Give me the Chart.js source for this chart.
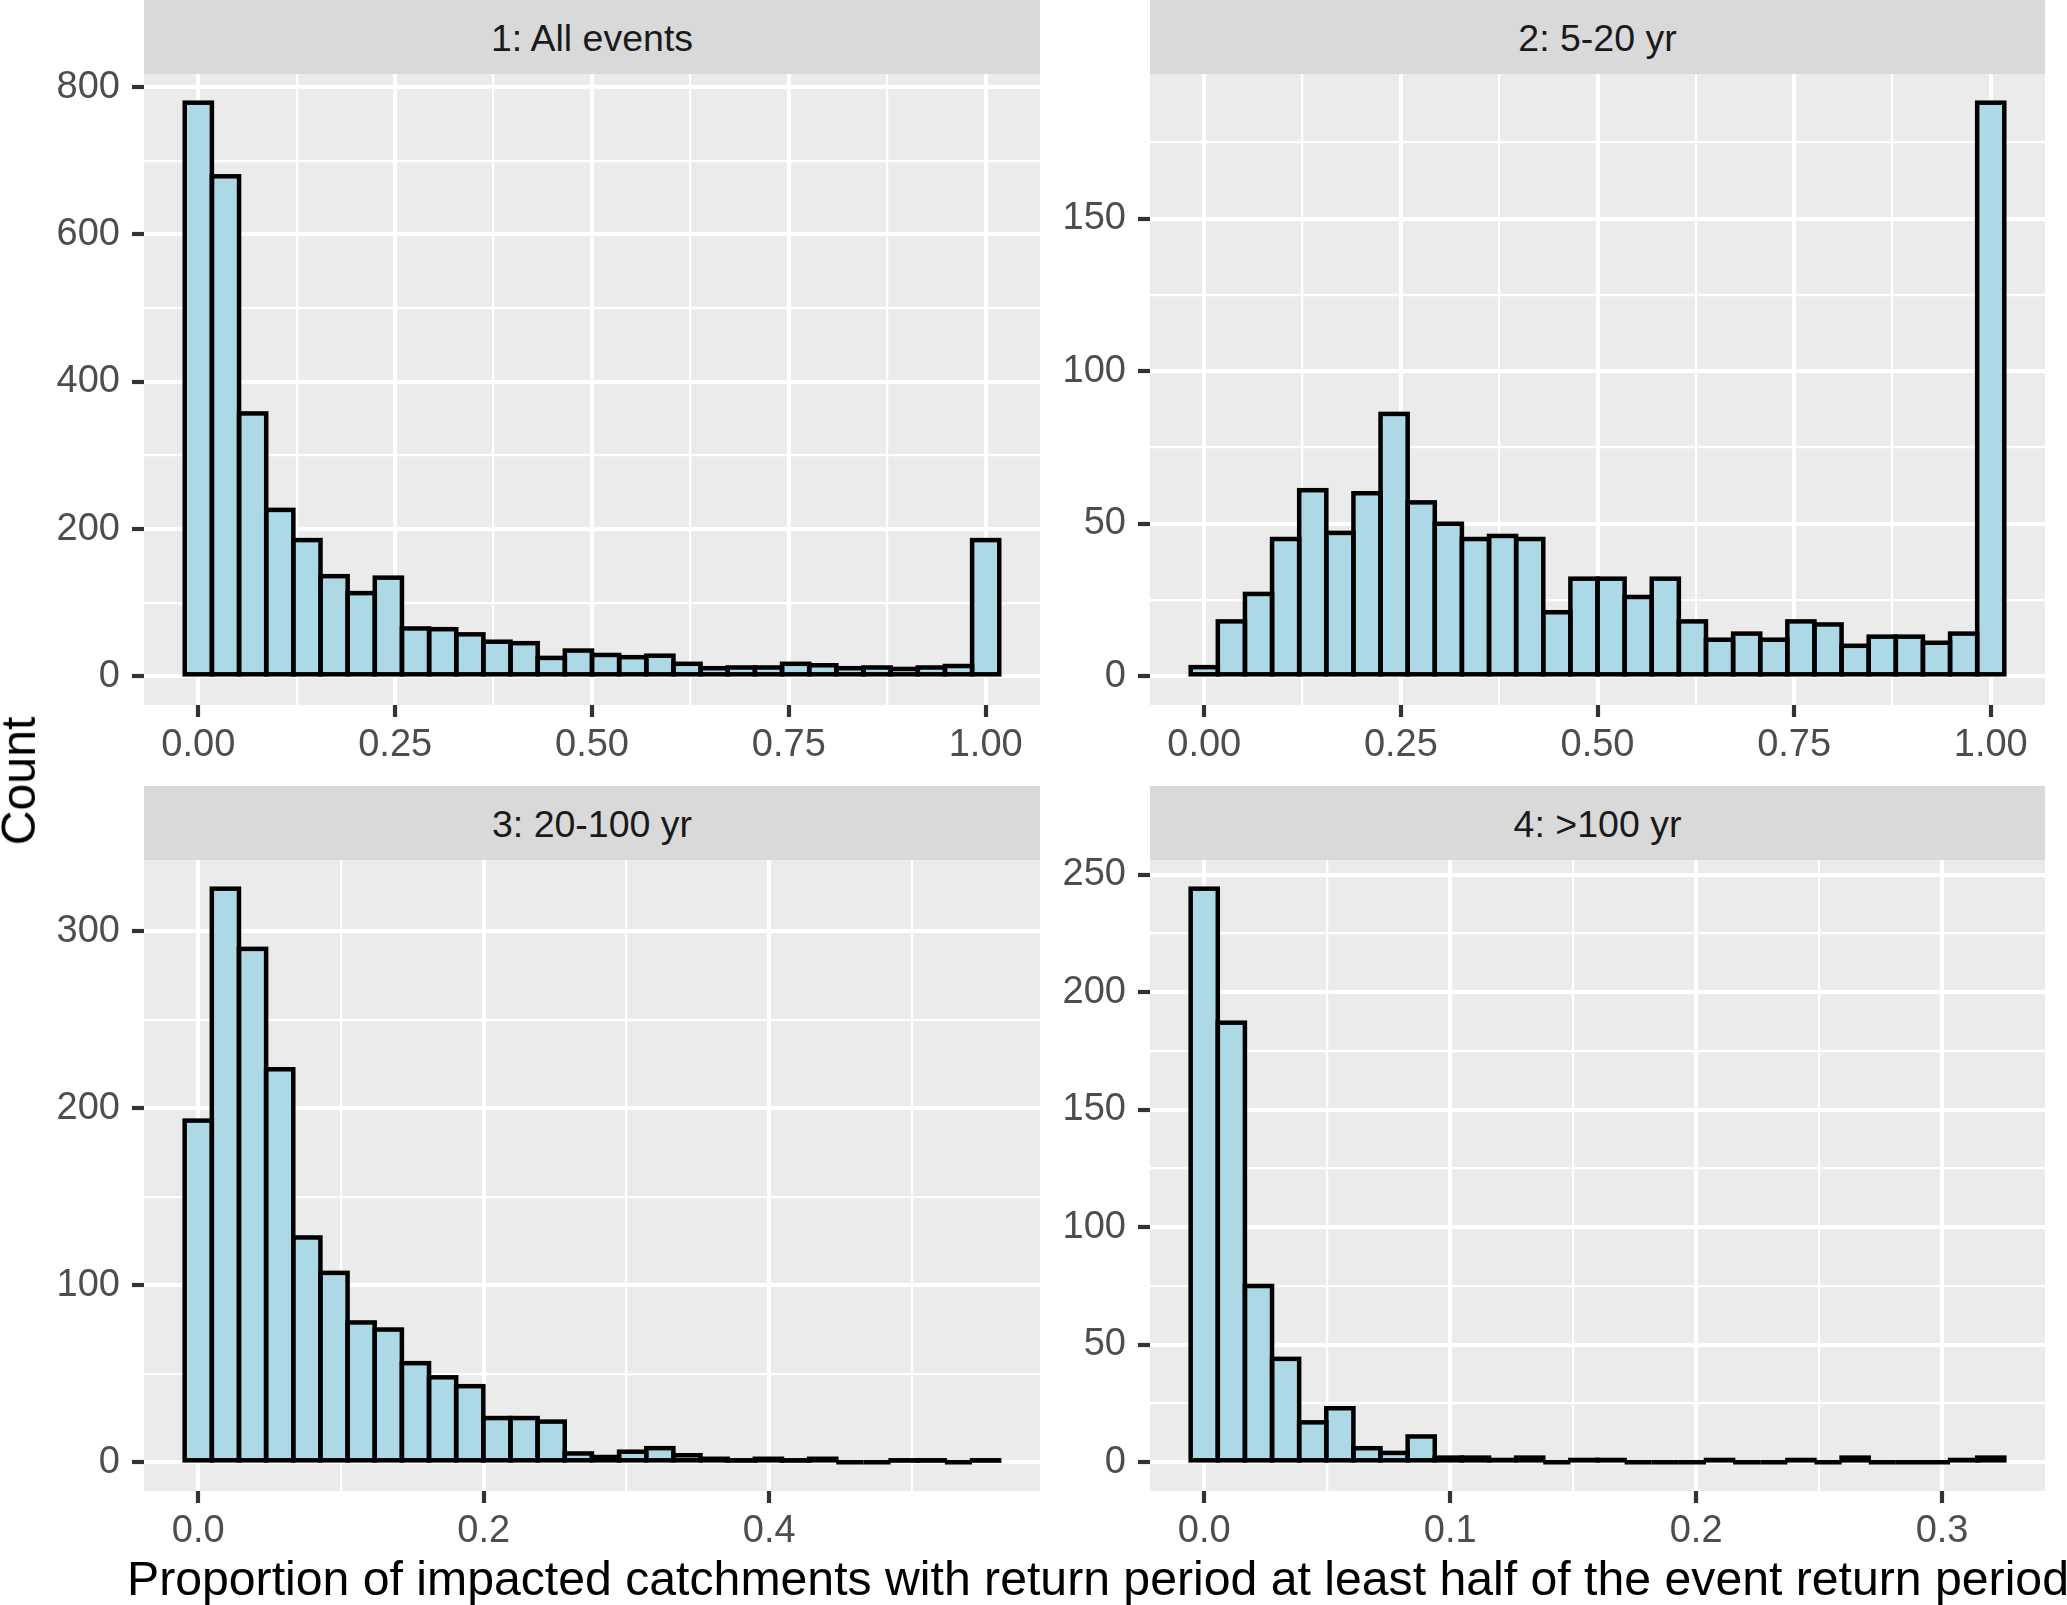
<!DOCTYPE html>
<html>
<head>
<meta charset="utf-8">
<script src="https://cdn.jsdelivr.net/npm/chart.js@4.4.1/dist/chart.umd.min.js"></script>
<style>
html,body{margin:0;padding:0;background:#ffffff;width:2067px;height:1605px;overflow:hidden;font-family:"Liberation Sans",Arial,sans-serif;}
canvas{position:absolute;}
.strip{position:absolute;height:74px;line-height:76px;background:#D9D9D9;color:#1A1A1A;font-size:37.5px;text-align:center;z-index:2;white-space:nowrap;}
.title{position:absolute;color:#000000;font-size:48.2px;line-height:1;white-space:nowrap;}
</style>
</head>
<body>
<canvas id="c1" width="1045" height="780" style="left:0px;top:0px;width:1045px;height:780px;"></canvas>
<canvas id="c2" width="1022" height="780" style="left:1045px;top:0px;width:1022px;height:780px;"></canvas>
<canvas id="c3" width="1045" height="780" style="left:0px;top:786px;width:1045px;height:780px;"></canvas>
<canvas id="c4" width="1022" height="780" style="left:1045px;top:786px;width:1022px;height:780px;"></canvas>
<div class="strip" style="left:144px;top:0px;width:896px;">1: All events</div>
<div class="strip" style="left:1150px;top:0px;width:895px;">2: 5-20 yr</div>
<div class="strip" style="left:144px;top:786px;width:896px;">3: 20-100 yr</div>
<div class="strip" style="left:1150px;top:786px;width:895px;">4: &gt;100 yr</div>
<div class="title" style="left:1098px;top:1554px;transform:translateX(-50%);">Proportion of impacted catchments with return period at least half of the event return period</div>
<div class="title" style="left:18px;top:781px;transform:translate(-50%,-50%) rotate(-90deg);">Count</div>
<script>
// ---- Data ----
// bin centres
const binsAll = [0, 0.03448, 0.06897, 0.10345, 0.13793, 0.17241, 0.2069, 0.24138, 0.27586, 0.31034, 0.34483, 0.37931, 0.41379, 0.44828, 0.48276, 0.51724, 0.55172, 0.58621, 0.62069, 0.65517, 0.68966, 0.72414, 0.75862, 0.7931, 0.82759, 0.86207, 0.89655, 0.93103, 0.96552, 1];
const bins20to100 = [0, 0.01902, 0.03804, 0.05706, 0.07608, 0.0951, 0.11412, 0.13314, 0.15216, 0.17118, 0.1902, 0.20922, 0.22824, 0.24726, 0.26628, 0.2853, 0.30432, 0.32334, 0.34236, 0.36138, 0.3804, 0.39942, 0.41844, 0.43746, 0.45648, 0.4755, 0.49452, 0.51354, 0.53256, 0.55158];
const binsOver100 = [0, 0.011028, 0.022055, 0.033083, 0.04411, 0.055138, 0.066166, 0.077193, 0.088221, 0.099248, 0.110276, 0.121303, 0.132331, 0.143359, 0.154386, 0.165414, 0.176441, 0.187469, 0.198497, 0.209524, 0.220552, 0.231579, 0.242607, 0.253634, 0.264662, 0.27569, 0.286717, 0.297745, 0.308772, 0.3198];

// counts
const countsAll    = [779, 679, 357, 226, 185, 136, 113, 134, 65, 64, 57, 47, 45, 25, 35, 29, 26, 28, 17, 11, 12, 12, 17, 15, 11, 12, 10, 12, 14, 185];
const counts5to20  = [3, 18, 27, 45, 61, 47, 60, 86, 57, 50, 45, 46, 45, 21, 32, 32, 26, 32, 18, 12, 14, 12, 18, 17, 10, 13, 13, 11, 14, 188];
const counts20to100 = [193, 324, 290, 222, 127, 107, 79, 75, 56, 48, 43, 25, 25, 23, 5, 3, 6, 8, 4, 2, 1, 2, 1, 2, 0, 0, 1, 1, 0, 1];
const countsOver100 = [244, 187, 75, 44, 17, 23, 6, 4, 11, 2, 2, 1, 2, 0, 1, 1, 0, 0, 0, 1, 0, 0, 1, 0, 2, 0, 0, 0, 1, 2];

// tick values and labels ('' = minor grid line)
const xTicksUnit  = [0, 0.125, 0.25, 0.375, 0.5, 0.625, 0.75, 0.875, 1];
const xLabelsUnit = ['0.00', '', '0.25', '', '0.50', '', '0.75', '', '1.00'];
const xTicks3  = [0, 0.1, 0.2, 0.3, 0.4, 0.5];
const xLabels3 = ['0.0', '', '0.2', '', '0.4', ''];
const xTicks4  = [0, 0.05, 0.1, 0.15, 0.2, 0.25, 0.3];
const xLabels4 = ['0.0', '', '0.1', '', '0.2', '', '0.3'];
const yTicks1  = [0, 100, 200, 300, 400, 500, 600, 700, 800];
const yLabels1 = ['0', '', '200', '', '400', '', '600', '', '800'];
const yTicks2  = [0, 25, 50, 75, 100, 125, 150, 175];
const yLabels2 = ['0', '', '50', '', '100', '', '150', ''];
const yTicks3  = [0, 50, 100, 150, 200, 250, 300];
const yLabels3 = ['0', '', '100', '', '200', '', '300'];
const yTicks4  = [0, 25, 50, 75, 100, 125, 150, 175, 200, 225, 250];
const yLabels4 = ['0', '', '50', '', '100', '', '150', '', '200', '', '250'];

// ---- Drawing ----
const FONT = '"Liberation Sans", Arial, sans-serif';

const panelPlugin = {
  id: 'panelPlugin',
  beforeDraw(chart) {
    const ctx = chart.ctx, a = chart.chartArea;
    ctx.save();
    ctx.fillStyle = '#EBEBEB';
    ctx.fillRect(a.left, a.top, a.right - a.left, a.bottom - a.top);
    ctx.restore();
  },
  afterDatasetsDraw(chart) {
    const ctx = chart.ctx;
    ctx.save();
    ctx.lineWidth = 4.5;
    ctx.strokeStyle = '#000000';
    ctx.lineJoin = 'miter';
    chart.getDatasetMeta(0).data.forEach(el => {
      const p = el.getProps(['x', 'y', 'base', 'width'], true);
      ctx.strokeRect(p.x - p.width / 2, Math.min(p.y, p.base), p.width, Math.abs(p.base - p.y));
    });
    ctx.restore();
  }
};

function makeTicks(vals, labs) {
  return vals.map((v, i) => ({ value: v, lab: labs[i] }));
}

function gridOpts() {
  return {
    display: true,
    offset: false,
    color: '#FFFFFF',
    lineWidth: c => (c.tick && c.tick.lab) ? 4 : 2.2,
    drawOnChartArea: true,
    drawTicks: true,
    tickLength: 12,
    tickWidth: 4.2,
    tickColor: c => (c.tick && c.tick.lab) ? '#333333' : 'rgba(0,0,0,0)'
  };
}

function makePanel(id, bins, counts, xr, xt, xl, yr, yt, yl, yAxisWidth, padRight) {
  const data = bins.map((b, i) => ({ x: b, y: counts[i] }));
  new Chart(document.getElementById(id), {
    type: 'bar',
    data: {
      datasets: [{
        data: data,
        backgroundColor: '#ADD8E6',
        borderWidth: 0,
        barPercentage: 1,
        categoryPercentage: 1,
        inflateAmount: 0.5
      }]
    },
    options: {
      responsive: false,
      devicePixelRatio: 1,
      animation: false,
      events: [],
      layout: { padding: { top: 74, left: 0, right: padRight, bottom: 0 } },
      plugins: { legend: { display: false }, tooltip: { enabled: false }, title: { display: false } },
      scales: {
        x: {
          type: 'linear',
          offset: false,
          min: xr[0], max: xr[1],
          afterBuildTicks: ax => { ax.ticks = makeTicks(xt, xl); },
          afterFit: s => { s.height = 75; },
          grid: gridOpts(),
          border: { display: false },
          ticks: {
            autoSkip: false, maxRotation: 0, minRotation: 0,
            color: '#4D4D4D', padding: 6,
            font: { family: FONT, size: 38 },
            callback: (v, i, t) => t[i].lab
          }
        },
        y: {
          type: 'linear',
          min: yr[0], max: yr[1],
          afterBuildTicks: ax => { ax.ticks = makeTicks(yt, yl); },
          afterFit: s => { s.width = yAxisWidth; },
          grid: gridOpts(),
          border: { display: false },
          ticks: {
            autoSkip: false,
            color: '#4D4D4D', padding: 12,
            font: { family: FONT, size: 38 },
            callback: (v, i, t) => t[i].lab
          }
        }
      }
    },
    plugins: [panelPlugin]
  });
}

makePanel('c1', binsAll, countsAll, [-0.069, 1.069], xTicksUnit, xLabelsUnit, [-38.95, 817.95], yTicks1, yLabels1, 144, 5);
makePanel('c2', binsAll, counts5to20, [-0.069, 1.069], xTicksUnit, xLabelsUnit, [-9.4, 197.4], yTicks2, yLabels2, 105, 22);
makePanel('c3', bins20to100, counts20to100, [-0.038, 0.5897], xTicks3, xLabels3, [-16.2, 340.2], yTicks3, yLabels3, 144, 5);
makePanel('c4', binsOver100, countsOver100, [-0.02205, 0.34185], xTicks4, xLabels4, [-12.2, 256.2], yTicks4, yLabels4, 105, 22);
</script>
</body>
</html>
